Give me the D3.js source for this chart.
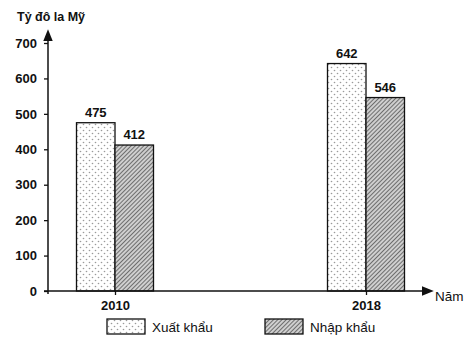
<!DOCTYPE html>
<html>
<head>
<meta charset="utf-8">
<script src="https://cdn.jsdelivr.net/npm/d3@7"></script>
<style>
  body { margin:0; background:#fff; }
  svg { display:block; font-family:"Liberation Sans", Arial, sans-serif; }
  .tick text { font-size:13px; font-weight:bold; fill:#111; }
</style>
</head>
<body>
<svg id="chart" width="474" height="342"></svg>
<script>
// dữ liệu biểu đồ
const years  = ['2010', '2018'];
const series = ['Xuất khẩu', 'Nhập khẩu'];
const exportVals = [475, 642];
const importVals = [412, 546];
const yTicks = [0, 100, 200, 300, 400, 500, 600, 700];

const svg = d3.select('#chart');
const defs = svg.append('defs');

// hoa văn chấm cho xuất khẩu
const dots = defs.append('pattern').attr('id','dots')
  .attr('width',6).attr('height',6).attr('patternUnits','userSpaceOnUse');
dots.append('rect').attr('width',6).attr('height',6).attr('fill','#fff');
dots.append('circle').attr('cx',1.5).attr('cy',1.5).attr('r',0.8).attr('fill','#9a9a9a');
dots.append('circle').attr('cx',4.5).attr('cy',4.5).attr('r',0.8).attr('fill','#9a9a9a');

// gạch chéo cho nhập khẩu
const hatch = defs.append('pattern').attr('id','hatch')
  .attr('width',3).attr('height',3).attr('patternUnits','userSpaceOnUse')
  .attr('patternTransform','rotate(45)');
hatch.append('rect').attr('width',3).attr('height',3).attr('fill','#cfcfcf');
hatch.append('line').attr('x1',0).attr('y1',0).attr('x2',0).attr('y2',3)
  .attr('stroke','#444').attr('stroke-width',1.4);

const arrow = defs.append('marker').attr('id','arr')
  .attr('viewBox','0 0 10 10').attr('refX',1).attr('refY',5)
  .attr('markerWidth',8).attr('markerHeight',8).attr('orient','auto');
arrow.append('path').attr('d','M0,1 L10,5 L0,9 Z').attr('fill','#111');

const fills = { 'Xuất khẩu':'url(#dots)', 'Nhập khẩu':'url(#hatch)' };

const y = d3.scaleLinear().domain([0, 700]).range([291, 43]);
const x = d3.scalePoint().domain(years).range([115, 366]);
const xs = d3.scaleBand().domain(series).range([-38.5, 38.5]).padding(0);

const rows = years.map((yr, i) => ({ year: yr, vals: [
  { key: series[0], v: exportVals[i] },
  { key: series[1], v: importVals[i] }
]}));

// trục y
const ax = svg.append('g').attr('transform','translate(48,0)')
  .call(d3.axisLeft(y).tickValues(yTicks).tickSize(4).tickPadding(7));
ax.select('.domain').remove();
ax.selectAll('.tick line').attr('stroke','#111').attr('stroke-width',1.3);
svg.append('line').attr('x1',48).attr('x2',48).attr('y1',294).attr('y2',40)
  .attr('stroke','#111').attr('stroke-width',1.5).attr('marker-end','url(#arr)');
svg.append('text').attr('x',17).attr('y',21).text('Tỷ đô la Mỹ')
  .attr('font-size',12.5).attr('font-weight','bold').attr('fill','#111');

// cột
const grp = svg.append('g').selectAll('g').data(rows).join('g')
  .attr('transform', d => `translate(${x(d.year)},0)`);
grp.selectAll('rect').data(d => d.vals).join('rect')
  .attr('x', d => xs(d.key)).attr('width', xs.bandwidth())
  .attr('y', d => y(d.v)).attr('height', d => y(0) - y(d.v))
  .attr('fill', d => fills[d.key]).attr('stroke','#111').attr('stroke-width',1.3);
grp.selectAll('text.val').data(d => d.vals).join('text').attr('class','val')
  .attr('x', d => xs(d.key) + xs.bandwidth()/2).attr('y', d => y(d.v) - 6)
  .attr('text-anchor','middle').attr('font-size',13).attr('font-weight','bold')
  .attr('fill','#111').text(d => d.v);

// trục x
const bx = svg.append('g').attr('transform','translate(0,291)')
  .call(d3.axisBottom(x).tickSize(4).tickPadding(6));
bx.select('.domain').remove();
bx.selectAll('.tick line').attr('stroke','#111').attr('stroke-width',1.3);
svg.append('line').attr('x1',44).attr('x2',423).attr('y1',291).attr('y2',291)
  .attr('stroke','#111').attr('stroke-width',1.5).attr('marker-end','url(#arr)');
svg.append('text').attr('x',435).attr('y',301).text('Năm')
  .attr('font-size',13.5).attr('fill','#111');

// chú giải
const legX = [107, 265];
const leg = svg.append('g').selectAll('g').data(series).join('g')
  .attr('transform', (d, i) => `translate(${legX[i]},319)`);
leg.append('rect').attr('width',38).attr('height',15)
  .attr('fill', d => fills[d]).attr('stroke','#111').attr('stroke-width',1.3);
leg.append('text').attr('x',45).attr('y',12.5).attr('font-size',13.5)
  .attr('fill','#111').text(d => d);
</script>
</body>
</html>
